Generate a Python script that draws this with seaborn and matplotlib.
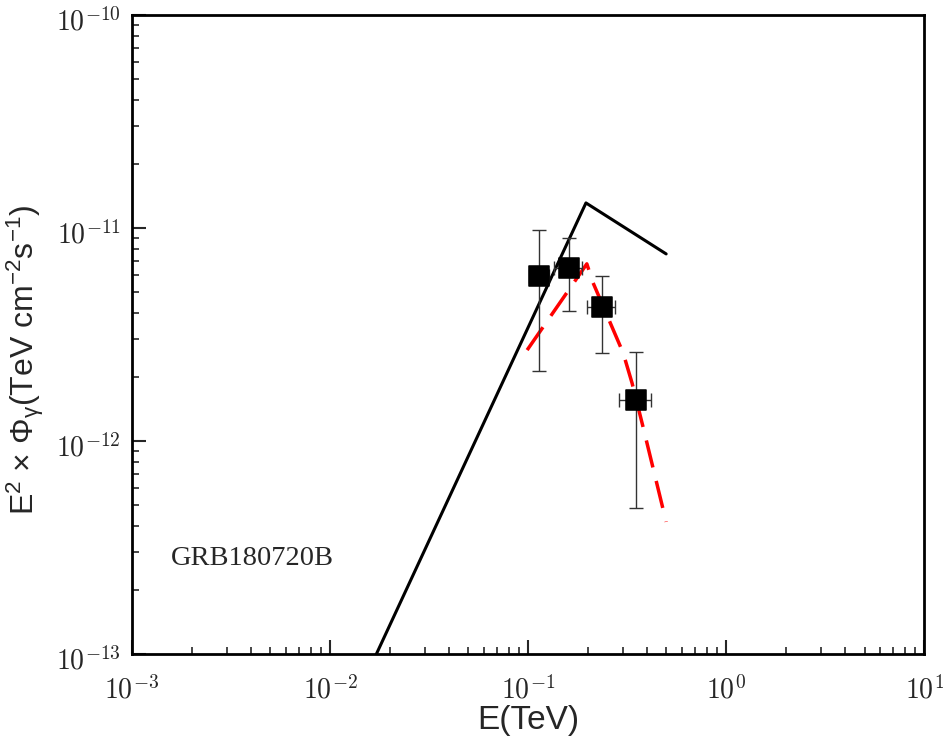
import matplotlib
matplotlib.use("Agg")
import matplotlib.pyplot as plt
import matplotlib.transforms as mtransforms
import seaborn as sns
import numpy as np
import pandas as pd
from matplotlib.ticker import LogLocator, NullFormatter, FuncFormatter

# Data
obs_E = [0.1138, 0.161, 0.2366, 0.351]
obs_F = [5.95e-12, 6.49e-12, 4.26e-12, 1.557e-12]
obs_F_hi = [9.8e-12, 8.98e-12, 5.95e-12, 2.62e-12]
obs_F_lo = [2.13e-12, 4.08e-12, 2.59e-12, 4.85e-13]
obs_E_lo = [0.1005, 0.135, 0.1986, 0.288]
obs_E_hi = [0.1268, 0.1875, 0.275, 0.418]

model_E = [0.0100, 0.196, 0.498]
model_F = [3.4e-14, 1.31e-11, 7.55e-12]

fit_E = [0.0989, 0.198, 0.213, 0.302, 0.335, 0.381, 0.498]
fit_F = [2.67e-12, 6.78e-12, 5.52e-12, 2.59e-12, 1.87e-12, 1.16e-12, 4.17e-13]

sns.set_style("white")
plt.rcParams["mathtext.fontset"] = "cm"

fig = plt.figure(figsize=(9.43, 7.44), dpi=100)
ax = fig.add_axes([0.14, 0.121, 0.84, 0.859])
ax.set_xscale("log")
ax.set_yscale("log")

df_model = pd.DataFrame({"E": model_E, "F": model_F})
df_fit = pd.DataFrame({"E": fit_E, "F": fit_F})
df_obs = pd.DataFrame({"E": obs_E, "F": obs_F})

sns.lineplot(data=df_model, x="E", y="F", ax=ax, sort=False, estimator=None,
             color="black", linewidth=2.2)
sns.lineplot(data=df_fit, x="E", y="F", ax=ax, sort=False, estimator=None,
             color="red", linewidth=2.5, dashes=False)
ax.lines[-1].set_dashes([8, 4])

yerr = [np.array(obs_F) - np.array(obs_F_lo), np.array(obs_F_hi) - np.array(obs_F)]
xerr = [np.array(obs_E) - np.array(obs_E_lo), np.array(obs_E_hi) - np.array(obs_E)]
ax.errorbar(obs_E, obs_F, yerr=yerr, xerr=xerr, fmt="none", ecolor="#333333",
            elinewidth=1.0, capsize=5, capthick=1.0, zorder=3)
sns.scatterplot(data=df_obs, x="E", y="F", ax=ax, marker="s", s=200,
                color="black", edgecolor="black", zorder=4)

ax.set_xlim(1e-3, 10)
ax.set_ylim(1e-13, 1e-10)

fmt = FuncFormatter(lambda v, p: r"$10^{%d}$" % int(round(np.log10(v))))
ax.xaxis.set_major_locator(LogLocator(base=10, numticks=10))
ax.yaxis.set_major_locator(LogLocator(base=10, numticks=10))
ax.xaxis.set_major_formatter(fmt)
ax.yaxis.set_major_formatter(fmt)
ax.xaxis.set_minor_locator(LogLocator(base=10, subs=np.arange(2, 10), numticks=20))
ax.yaxis.set_minor_locator(LogLocator(base=10, subs=np.arange(2, 10), numticks=20))
ax.xaxis.set_minor_formatter(NullFormatter())
ax.yaxis.set_minor_formatter(NullFormatter())

ax.tick_params(which="major", direction="in", length=10, width=1.5, labelsize=20,
               top=False, right=False, bottom=True, left=True, pad=8)
ax.tick_params(axis="x", which="major", pad=16)
ax.tick_params(which="minor", direction="in", length=5, width=1.2,
               top=False, right=False, bottom=True, left=True)
for s in ax.spines.values():
    s.set_linewidth(2)
    s.set_color("black")

offset = mtransforms.ScaledTranslation(0, -4 / 100, fig.dpi_scale_trans)
for lbl in ax.get_yticklabels():
    lbl.set_transform(lbl.get_transform() + offset)

ax.set_xlabel("E(TeV)", fontsize=24, family="Liberation Sans", labelpad=0)
ax.set_ylabel(r"E$\mathregular{^2}$ × Φ$\mathregular{_γ}$(TeV cm$\mathregular{^{-2}}$s$\mathregular{^{-1}}$)",
              fontsize=23, family="Liberation Sans")
ax.yaxis.set_label_coords(-0.108, 0.46)

ax.text(0.00158, 2.8e-13, "GRB180720B", fontsize=20.5, family="Liberation Serif",
        va="center", ha="left")

fig.savefig("out.png", dpi=100)
